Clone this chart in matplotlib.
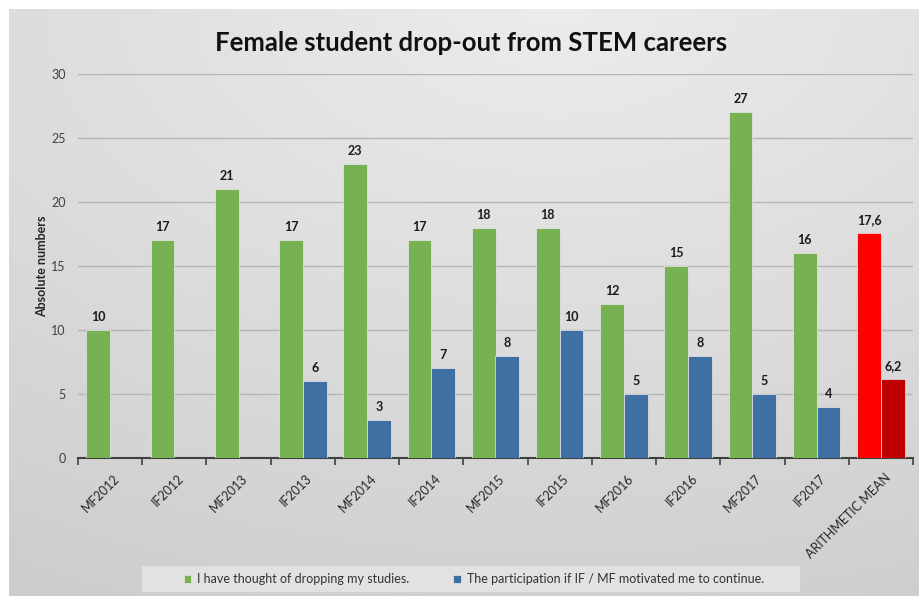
import matplotlib.pyplot as plt
import numpy as np
from matplotlib.patches import Rectangle

plt.rcParams["font.family"] = ["Lato", "DejaVu Sans"]

categories = [
    "MF2012", "IF2012", "MF2013", "IF2013", "MF2014", "IF2014", "MF2015",
    "IF2015", "MF2016", "IF2016", "MF2017", "IF2017", "ARITHMETIC MEAN",
]
thought_dropping = [10, 17, 21, 17, 23, 17, 18, 18, 12, 15, 27, 16, 17.6]
motivated = [None, None, None, 6, 3, 7, 8, 10, 5, 8, 5, 4, 6.2]

series_names = [
    "I have thought of dropping my studies.",
    "The participation if IF / MF motivated me to continue.",
]

green = "#77b252"
blue = "#3f70a3"
red = "#ff0000"
dark_red = "#c00000"

fig = plt.figure(figsize=(9.2, 5.96), dpi=100)
fig.patch.set_facecolor("white")

# gray gradient panel behind the chart
bg = fig.add_axes([9 / 920, 0, 1 - 9 / 920, 1 - 9 / 596], zorder=-10)
yy, xx = np.mgrid[0:1:200j, 0:1:300j]
dist = np.sqrt(((xx - 0.6) * 0.9) ** 2 + (yy * 1.0) ** 2)
shade = 0.925 - 0.13 * np.clip(dist, 0, 1.2) / 1.2
bg.imshow(np.dstack([shade] * 3), aspect="auto", extent=[0, 1, 1, 0])
bg.set_axis_off()

ax = fig.add_axes([78 / 920, 1 - 458 / 596, (913 - 78) / 920, (458 - 74) / 596])
ax.set_facecolor("none")

x = np.arange(len(categories))
w = 0.37
g_vals = np.array(thought_dropping, dtype=float)
b_vals = np.array([np.nan if v is None else v for v in motivated], dtype=float)

g_colors = [green] * (len(categories) - 1) + [red]
b_colors = [blue] * (len(categories) - 1) + [dark_red]

bars_g = ax.bar(x - w / 2, g_vals, w, color=g_colors, zorder=3,
                edgecolor="#e8e8e8", linewidth=0.5, label=series_names[0])
bars_b = ax.bar(x + w / 2, b_vals, w, color=b_colors, zorder=3,
                edgecolor="#e8e8e8", linewidth=0.5, label=series_names[1])


def fmt(v):
    if v == int(v):
        return str(int(v))
    return f"{v:.1f}".replace(".", ",")


for xs, vals in ((x - w / 2, g_vals), (x + w / 2, b_vals)):
    for xi, v in zip(xs, vals):
        if np.isnan(v):
            continue
        ax.annotate(fmt(v), (xi, v), xytext=(0, 5), textcoords="offset points",
                    ha="center", va="bottom", fontsize=9, fontweight="bold",
                    color="#1a1a1a")

ax.set_xlim(-0.5, len(categories) - 0.5)
ax.set_ylim(0, 30)
ax.set_yticks(np.arange(0, 31, 5))
ax.yaxis.grid(True, color="#b5b5b5", linewidth=1, zorder=0)
ax.set_axisbelow(True)
ax.tick_params(axis="y", length=0, pad=9, labelsize=9, labelcolor="#404040")

ax.set_xticks(x + 0.05)
ax.set_xticklabels(categories, rotation=45, ha="right", rotation_mode="anchor",
                   fontsize=9, color="#262626")
ax.tick_params(axis="x", which="major", length=0, pad=10)
ax.set_xticks(np.arange(-0.5, len(categories), 1), minor=True)
ax.tick_params(axis="x", which="minor", length=5, width=1.2, color="#404040",
               direction="out")

for side in ("top", "right", "left"):
    ax.spines[side].set_visible(False)
ax.spines["bottom"].set_color("#404040")
ax.spines["bottom"].set_linewidth(1.5)

ax.set_ylabel("Absolute numbers", fontsize=9, fontweight="bold",
              color="#262626", labelpad=2)

fig.text(471 / 920, 1 - 43 / 596, "Female student drop-out from STEM careers",
         ha="center", va="center", fontsize=18.5, fontweight="bold",
         color="#111111")

# legend box
fig.patches.append(Rectangle((142 / 920, 1 - 592 / 596), (800 - 142) / 920,
                             26 / 596, transform=fig.transFigure,
                             facecolor="#e2e2e2", edgecolor="none", zorder=1))
fig.legend(handles=[bars_g, bars_b], loc="center",
           bbox_to_anchor=(474 / 920, 1 - 579 / 596), ncol=2, frameon=False,
           fontsize=9, handlelength=0.6, handleheight=0.6, handletextpad=0.5,
           columnspacing=3.5, labelcolor="#333333")

fig.savefig("out.png", dpi=100)
